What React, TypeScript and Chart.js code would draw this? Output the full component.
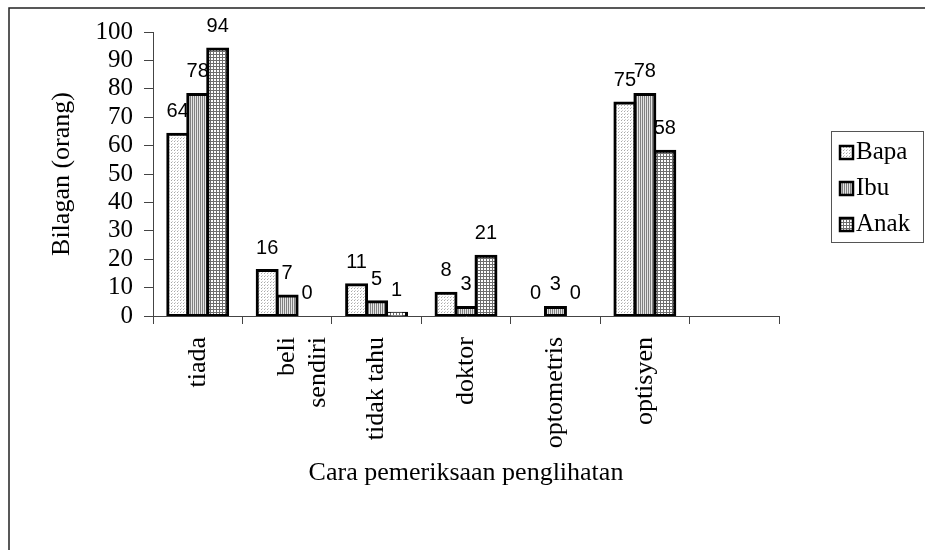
import React, { useEffect, useRef } from "react";
import { Chart, registerables } from "chart.js";

Chart.register(...registerables);

const categories: (string | string[])[] = [
  "tiada",
  ["beli", "sendiri"],
  "tidak tahu",
  "doktor",
  "optometris",
  "optisyen",
  "",
];
const seriesNames = ["Bapa", "Ibu", "Anak"];
const bapaValues: (number | null)[] = [64, 16, 11, 8, 0, 75, null];
const ibuValues: (number | null)[] = [78, 7, 5, 3, 3, 78, null];
const anakValues: (number | null)[] = [94, 0, 1, 21, 0, 58, null];
const yTicks = { min: 0, max: 100, step: 10 };
const xTitle = "Cara pemeriksaan penglihatan";
const yTitle = "Bilagan (orang)";

const SERIF = '"Liberation Serif", "Times New Roman", serif';
const SANS = '"Liberation Sans", Arial, sans-serif';

function makePattern(kind: string): CanvasPattern | string {
  const c = document.createElement("canvas");
  let ctx: CanvasRenderingContext2D | null = null;
  if (kind === "dots") {
    c.width = 3;
    c.height = 3;
    ctx = c.getContext("2d")!;
    ctx.fillStyle = "#ffffff";
    ctx.fillRect(0, 0, 3, 3);
    ctx.fillStyle = "#a8a8a8";
    ctx.fillRect(0, 0, 1, 1);
    ctx.fillStyle = "#d0d0d0";
    ctx.fillRect(1, 2, 1, 1);
  } else if (kind === "vstripes") {
    c.width = 2;
    c.height = 2;
    ctx = c.getContext("2d")!;
    ctx.fillStyle = "#e4e4e4";
    ctx.fillRect(0, 0, 2, 2);
    ctx.fillStyle = "#808080";
    ctx.fillRect(0, 0, 1, 2);
  } else {
    c.width = 3;
    c.height = 3;
    ctx = c.getContext("2d")!;
    ctx.fillStyle = "#ffffff";
    ctx.fillRect(0, 0, 3, 3);
    ctx.fillStyle = "#6e6e6e";
    ctx.fillRect(0, 0, 3, 1);
    ctx.fillRect(0, 0, 1, 3);
  }
  const p = ctx.createPattern(c, "repeat");
  return p || "#ccc";
}

const frameAndLegend = {
  id: "frameAndLegend",
  beforeDraw(chart: any) {
    const ctx = chart.ctx;
    ctx.save();
    ctx.fillStyle = "#ffffff";
    ctx.fillRect(0, 0, chart.width, chart.height);
    ctx.strokeStyle = "#222";
    ctx.lineWidth = 1.5;
    ctx.beginPath();
    ctx.moveTo(9, chart.height + 2);
    ctx.lineTo(9, 8);
    ctx.lineTo(chart.width + 2, 8);
    ctx.stroke();
    ctx.restore();
  },
  afterDraw(chart: any) {
    const ctx = chart.ctx;
    ctx.save();
    ctx.strokeStyle = "#555";
    ctx.lineWidth = 1;
    ctx.strokeRect(831.5, 131.5, 92, 111);
    const ds = chart.data.datasets;
    ctx.font = `25px ${SERIF}`;
    ctx.textAlign = "left";
    ctx.textBaseline = "alphabetic";
    for (let i = 0; i < ds.length; i++) {
      const base = 159 + i * 36;
      ctx.fillStyle = ds[i].backgroundColor;
      ctx.fillRect(840, base - 13, 13, 13);
      ctx.strokeStyle = "#000";
      ctx.lineWidth = 2.5;
      ctx.strokeRect(840, base - 13, 13, 13);
      ctx.fillStyle = "#000";
      ctx.fillText(ds[i].label, 856, base);
    }
    ctx.restore();
  },
};

const valueLabels = {
  id: "valueLabels",
  afterDatasetsDraw(chart: any) {
    const ctx = chart.ctx;
    ctx.save();
    ctx.font = `20px ${SANS}`;
    ctx.fillStyle = "#000";
    ctx.textAlign = "center";
    ctx.textBaseline = "alphabetic";
    chart.data.datasets.forEach((d: any, i: number) => {
      const meta = chart.getDatasetMeta(i);
      meta.data.forEach((el: any, j: number) => {
        const v = d.data[j];
        if (v === null || v === undefined) return;
        ctx.fillText(String(v), el.x, el.y - 17);
      });
    });
    ctx.restore();
  },
};

export default function App() {
  const ref = useRef<HTMLCanvasElement | null>(null);

  useEffect(() => {
    document.body.style.margin = "0";
    const canvas = ref.current!;
    const barStyle = {
      borderColor: "#000",
      borderWidth: 3,
      inflateAmount: 1.5,
      borderSkipped: false as const,
      barPercentage: 1,
      categoryPercentage: 0.67,
    };
    const chart = new Chart(canvas, {
      type: "bar",
      data: {
        labels: categories,
        datasets: [
          { label: seriesNames[0], data: bapaValues, backgroundColor: makePattern("dots") as any, ...barStyle },
          { label: seriesNames[1], data: ibuValues, backgroundColor: makePattern("vstripes") as any, ...barStyle },
          { label: seriesNames[2], data: anakValues, backgroundColor: makePattern("grid") as any, ...barStyle },
        ],
      },
      options: {
        animation: false,
        responsive: false,
        devicePixelRatio: 1,
        layout: { padding: { left: 0, top: 32, right: 146, bottom: 57 } },
        plugins: {
          legend: { display: false },
          tooltip: { enabled: false },
        },
        scales: {
          x: {
            afterFit: (s: any) => {
              s.height = 177;
            },
            grid: {
              display: true,
              offset: true,
              drawOnChartArea: false,
              drawTicks: true,
              tickLength: 8,
              color: "#444",
            },
            border: { display: true, color: "#444", width: 1 },
            ticks: {
              autoSkip: false,
              maxRotation: 90,
              minRotation: 90,
              padding: 13,
              color: "#000",
              font: { family: SERIF, size: 26, lineHeight: 1.2 },
            },
            title: {
              display: true,
              text: xTitle,
              color: "#000",
              font: { family: SERIF, size: 26, lineHeight: 1.2 },
              padding: { top: 4, bottom: 4 },
            },
          },
          y: {
            min: yTicks.min,
            max: yTicks.max,
            afterFit: (s: any) => {
              s.width = 153;
            },
            grid: {
              display: true,
              drawOnChartArea: false,
              drawTicks: true,
              tickLength: 9,
              color: "#444",
            },
            border: { display: true, color: "#444", width: 1 },
            ticks: {
              autoSkip: false,
              stepSize: yTicks.step,
              padding: 11,
              color: "#000",
              font: { family: SERIF, size: 25 },
            },
            title: {
              display: true,
              text: yTitle,
              color: "#000",
              font: { family: SERIF, size: 26, lineHeight: 1.2 },
              padding: { top: 47, bottom: 4 },
            },
          },
        },
      },
      plugins: [frameAndLegend, valueLabels],
    });
    return () => chart.destroy();
  }, []);

  return (
    <div style={{ width: 925, height: 550, overflow: "hidden" }}>
      <canvas ref={ref} width={925} height={550} style={{ display: "block" }} />
    </div>
  );
}
